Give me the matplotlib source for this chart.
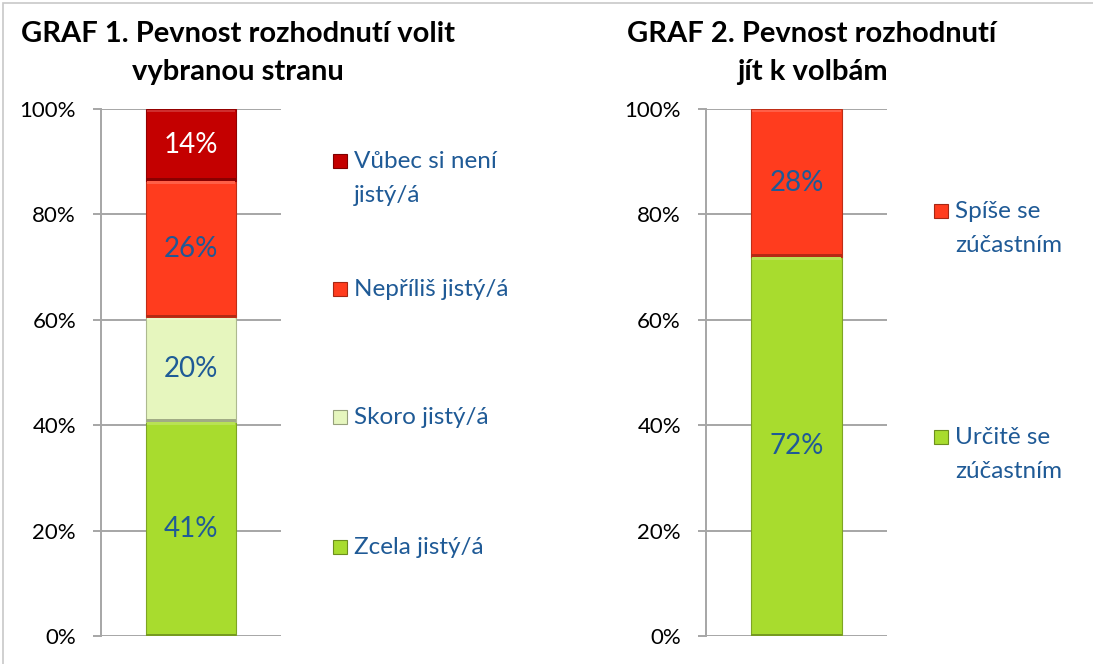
import matplotlib.pyplot as plt
import matplotlib.colors as mcolors
from matplotlib.patches import Rectangle

plt.rcParams['font.family'] = ['Lato', 'DejaVu Sans']

W, H = 1093, 664
TEXT_BLUE = "#1F5A96"
GRID = "#A6A6A6"

# GRAF 1 - firmness of the decision to vote for the chosen party (bottom to top)
party_labels = ["Zcela jistý/á", "Skoro jistý/á", "Nepříliš jistý/á", "Vůbec si není\njistý/á"]
party_values = [40.7, 19.8, 25.9, 13.6]
party_colors = ["#A8DC2E", "#E6F6BE", "#FF3C1E", "#C40000"]
party_text = [TEXT_BLUE, TEXT_BLUE, TEXT_BLUE, "white"]

# GRAF 2 - firmness of the decision to go to the polls (bottom to top)
turnout_labels = ["Určitě se\nzúčastním", "Spíše se\nzúčastním"]
turnout_values = [72, 28]
turnout_colors = ["#A8DC2E", "#FF3C1E"]
turnout_text = [TEXT_BLUE, TEXT_BLUE]

y_ticks = [0, 20, 40, 60, 80, 100]


def px_rect(left, right, top, bottom):
    return [left / W, 1 - bottom / H, (right - left) / W, (bottom - top) / H]


def shade(color, k):
    r, g, b = mcolors.to_rgb(color)
    if k < 0:
        return (r * (1 + k), g * (1 + k), b * (1 + k))
    return (r + (1 - r) * k, g + (1 - g) * k, b + (1 - b) * k)


def panel(fig, rect, title, title_xy, labels, values, colors, text_colors, legend_x, legend_ys):
    ax = fig.add_axes(rect)
    bottom = 0
    for val, col, tcol in zip(values, colors, text_colors):
        ax.bar(0, val, width=1.0, bottom=bottom, color=col, edgecolor=shade(col, -0.25),
               linewidth=0.8, zorder=3)
        # bevel look: soft light rim on top, dark rim at the bottom
        ax.bar(0, 0.5, width=0.98, bottom=bottom + val - 0.6, color=shade(col, 0.18),
               linewidth=0, zorder=4)
        ax.bar(0, 0.45, width=1.0, bottom=bottom, color=shade(col, -0.3),
               linewidth=0, zorder=4)
        ax.text(0, bottom + val / 2, f"{round(val):.0f}%", ha='center', va='center',
                fontsize=20, color=tcol, zorder=5)
        bottom += val

    ax.set_xlim(-1, 1)
    ax.set_ylim(0, 100)
    ax.set_yticks(y_ticks)
    ax.set_yticklabels([f"{t}%" for t in y_ticks])
    ax.set_xticks([])
    ax.yaxis.grid(True, color=GRID, linewidth=1.4, zorder=0)
    for side in ['top', 'right', 'bottom']:
        ax.spines[side].set_visible(False)
    ax.spines['left'].set_color(GRID)
    ax.spines['left'].set_linewidth(1.4)
    ax.tick_params(axis='y', length=6, width=1.4, color=GRID, pad=12,
                   labelsize=16, labelcolor='black')

    fig.text(title_xy[0] / W, 1 - title_xy[1] / H, title, ha='center', va='center',
             fontsize=21, fontweight='bold', linespacing=1.6)

    for lab, col, ly in zip(labels, colors, legend_ys):
        fig.patches.append(Rectangle(((legend_x - 15) / W, 1 - (ly + 7) / H), 14 / W, 14 / H,
                                     transform=fig.transFigure, facecolor=col,
                                     edgecolor=shade(col, -0.35), linewidth=0.8))
        fig.text((legend_x + 6) / W, 1 - (ly - 10) / H, lab, ha='left', va='top',
                 fontsize=17.5, color=TEXT_BLUE, linespacing=1.75)
    return ax


fig = plt.figure(figsize=(W / 100, H / 100), dpi=100)
fig.patches.append(Rectangle((3 / W, -0.1), 1.2, 1 - 3 / H + 0.1, transform=fig.transFigure,
                             facecolor='none', edgecolor='#C8C8C8', linewidth=1.2))

panel(fig, px_rect(101, 281, 109, 636), "GRAF 1. Pevnost rozhodnutí volit\nvybranou stranu",
      (238, 53), party_labels, party_values, party_colors, party_text,
      348, [547, 417, 289, 161])
panel(fig, px_rect(706, 887, 109, 636), "GRAF 2. Pevnost rozhodnutí\njít k volbám",
      (812, 53), turnout_labels, turnout_values, turnout_colors, turnout_text,
      949, [437, 211])

fig.savefig("out.png", dpi=100)
